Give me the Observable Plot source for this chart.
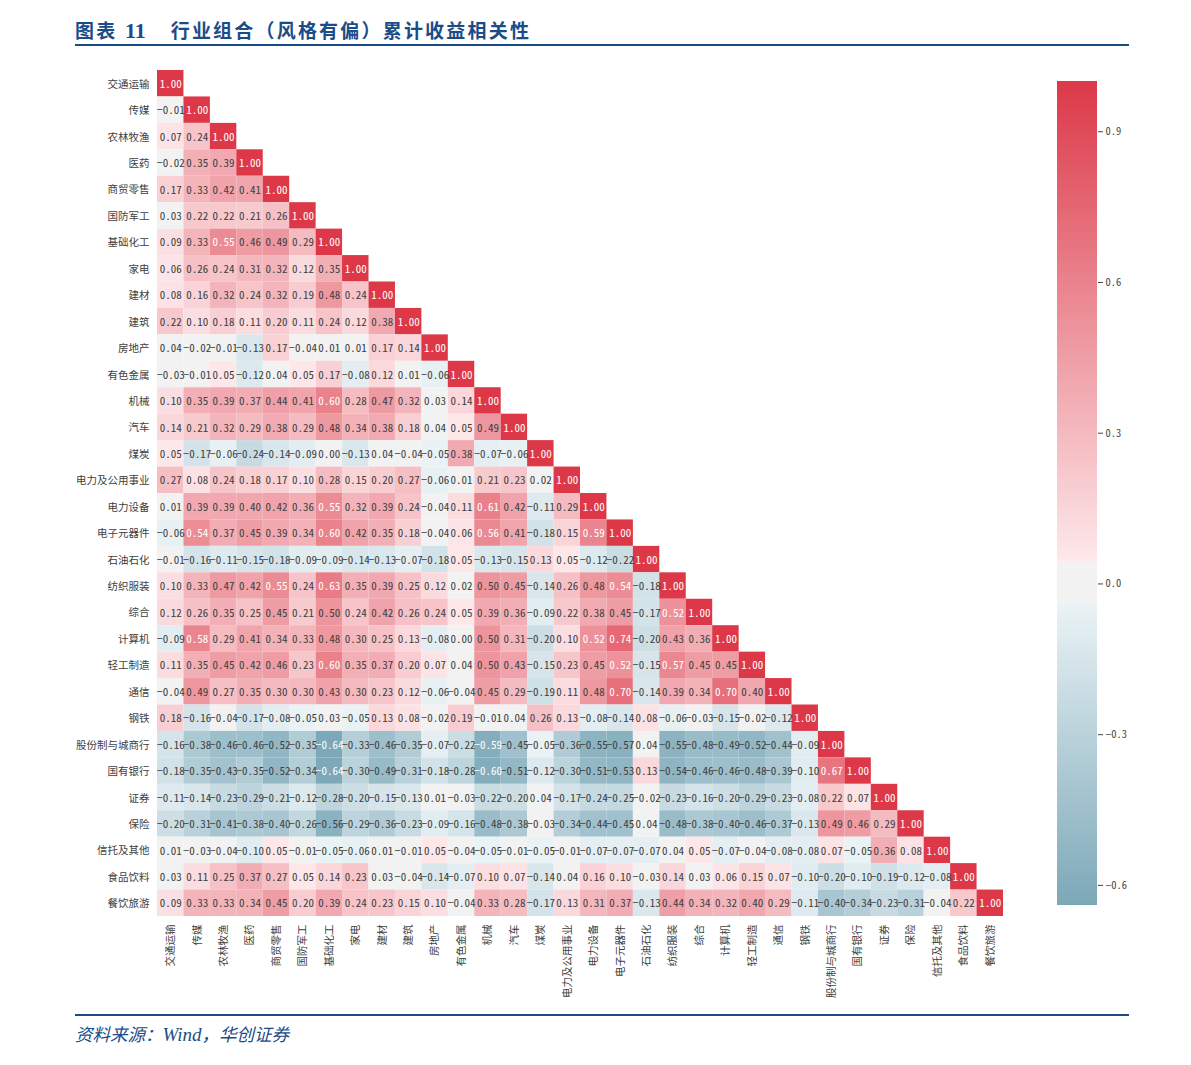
<!DOCTYPE html>
<html lang="zh">
<head>
<meta charset="utf-8">
<script src="https://cdn.jsdelivr.net/npm/d3@7"></script>
<script src="https://cdn.jsdelivr.net/npm/@observablehq/plot@0.6"></script>
<style>
  html, body { margin: 0; padding: 0; background: #fff; }
  #page { position: relative; width: 1191px; height: 1065px; overflow: hidden; }
  #title { position: absolute; left: 75px; top: 16px; font: 600 19px "Noto Sans CJK SC", sans-serif; letter-spacing: 2.2px; color: #1c4c87; white-space: pre; line-height: 28px; }
  #title .num { font-family: "Liberation Serif", serif; font-weight: 700; font-size: 22px; letter-spacing: 0; margin: 0 2px 0 1px; }
  #title .gap { display: inline-block; width: 23px; }
  .rule { position: absolute; left: 75px; width: 1054px; height: 2px; background: #1c4c87; }
  #source { position: absolute; left: 75px; top: 1021px; font: italic 17.5px "Noto Sans CJK SC", sans-serif; color: #1c4c87; white-space: pre; line-height: 26px; }
  #source .en { font-family: "Liberation Serif", serif; font-size: 19px; }
  #heat { position: absolute; left: 0; top: 47px; }
  #bar { position: absolute; left: 1040px; top: 47px; }
  svg text { font-family: "Noto Sans CJK SC", sans-serif; font-feature-settings: "hwid"; }
</style>
</head>
<body>
<div id="page">
  <div id="title">图表 <span class="num">11</span><span class="gap"></span>行业组合（风格有偏）累计收益相关性</div>
  <div class="rule" style="top:44px"></div>
  <div id="heat"></div>
  <div id="bar"></div>
  <div class="rule" style="top:1014px"></div>
  <div id="source">资料来源：<span class="en">Wind</span>，华创证券</div>
</div>
<script>
const categories = ["交通运输","传媒","农林牧渔","医药","商贸零售","国防军工","基础化工","家电","建材","建筑","房地产","有色金属","机械","汽车","煤炭","电力及公用事业","电力设备","电子元器件","石油石化","纺织服装","综合","计算机","轻工制造","通信","钢铁","股份制与城商行","国有银行","证券","保险","信托及其他","食品饮料","餐饮旅游"];

const correlations = [
[1],
[-0.01,1],
[0.07,0.24,1],
[-0.02,0.35,0.39,1],
[0.17,0.33,0.42,0.41,1],
[0.03,0.22,0.22,0.21,0.26,1],
[0.09,0.33,0.55,0.46,0.49,0.29,1],
[0.06,0.26,0.24,0.31,0.32,0.12,0.35,1],
[0.08,0.16,0.32,0.24,0.32,0.19,0.48,0.24,1],
[0.22,0.10,0.18,0.11,0.20,0.11,0.24,0.12,0.38,1],
[0.04,-0.02,-0.01,-0.13,0.17,-0.04,0.01,0.01,0.17,0.14,1],
[-0.03,-0.01,0.05,-0.12,0.04,0.05,0.17,-0.08,0.12,0.01,-0.06,1],
[0.10,0.35,0.39,0.37,0.44,0.41,0.60,0.28,0.47,0.32,0.03,0.14,1],
[0.14,0.21,0.32,0.29,0.38,0.29,0.48,0.34,0.38,0.18,0.04,0.05,0.49,1],
[0.05,-0.17,-0.06,-0.24,-0.14,-0.09,0.00,-0.13,0.04,-0.04,-0.05,0.38,-0.07,-0.06,1],
[0.27,0.08,0.24,0.18,0.17,0.10,0.28,0.15,0.20,0.27,-0.06,0.01,0.21,0.23,0.02,1],
[0.01,0.39,0.39,0.40,0.42,0.36,0.55,0.32,0.39,0.24,-0.04,0.11,0.61,0.42,-0.11,0.29,1],
[-0.06,0.54,0.37,0.45,0.39,0.34,0.60,0.42,0.35,0.18,-0.04,0.06,0.56,0.41,-0.18,0.15,0.59,1],
[-0.01,-0.16,-0.11,-0.15,-0.18,-0.09,-0.09,-0.14,-0.13,-0.07,-0.18,0.05,-0.13,-0.15,0.13,0.05,-0.12,-0.22,1],
[0.10,0.33,0.47,0.42,0.55,0.24,0.63,0.35,0.39,0.25,0.12,0.02,0.50,0.45,-0.14,0.26,0.48,0.54,-0.18,1],
[0.12,0.26,0.35,0.25,0.45,0.21,0.50,0.24,0.42,0.26,0.24,0.05,0.39,0.36,-0.09,0.22,0.38,0.45,-0.17,0.52,1],
[-0.09,0.58,0.29,0.41,0.34,0.33,0.48,0.30,0.25,0.13,-0.08,-0.001,0.50,0.31,-0.20,0.10,0.52,0.74,-0.20,0.43,0.36,1],
[0.11,0.35,0.45,0.42,0.46,0.23,0.60,0.35,0.37,0.20,0.07,0.04,0.50,0.43,-0.15,0.23,0.45,0.52,-0.15,0.57,0.45,0.45,1],
[-0.04,0.49,0.27,0.35,0.30,0.30,0.43,0.30,0.23,0.12,-0.06,-0.04,0.45,0.29,-0.19,0.11,0.48,0.70,-0.14,0.39,0.34,0.70,0.40,1],
[0.18,-0.16,-0.04,-0.17,-0.08,-0.05,0.03,-0.05,0.13,0.08,-0.02,0.19,-0.01,0.04,0.26,0.13,-0.08,-0.14,0.08,-0.06,-0.03,-0.15,-0.02,-0.12,1],
[-0.16,-0.38,-0.46,-0.46,-0.52,-0.35,-0.64,-0.33,-0.46,-0.35,-0.07,-0.22,-0.59,-0.45,-0.05,-0.36,-0.55,-0.57,0.04,-0.55,-0.48,-0.49,-0.52,-0.44,-0.09,1],
[-0.18,-0.35,-0.43,-0.35,-0.52,-0.34,-0.64,-0.30,-0.49,-0.31,-0.18,-0.28,-0.60,-0.51,-0.12,-0.30,-0.51,-0.53,0.13,-0.54,-0.46,-0.46,-0.48,-0.39,-0.10,0.67,1],
[-0.11,-0.14,-0.23,-0.29,-0.21,-0.12,-0.28,-0.20,-0.15,-0.13,0.01,-0.03,-0.22,-0.20,0.04,-0.17,-0.24,-0.25,-0.02,-0.23,-0.16,-0.20,-0.29,-0.23,-0.08,0.22,0.07,1],
[-0.20,-0.31,-0.41,-0.38,-0.40,-0.26,-0.56,-0.29,-0.36,-0.23,-0.09,-0.16,-0.48,-0.38,-0.03,-0.34,-0.44,-0.45,0.04,-0.48,-0.38,-0.40,-0.46,-0.37,-0.13,0.49,0.46,0.29,1],
[0.01,-0.03,-0.04,-0.10,0.05,-0.01,-0.05,-0.06,0.01,-0.01,0.05,-0.04,-0.05,-0.01,-0.05,-0.01,-0.07,-0.07,-0.07,0.04,0.05,-0.07,-0.04,-0.08,-0.08,0.07,-0.05,0.36,0.08,1],
[0.03,0.11,0.25,0.37,0.27,0.05,0.14,0.23,0.03,-0.04,-0.14,-0.07,0.10,0.07,-0.14,0.04,0.16,0.10,-0.03,0.14,0.03,0.06,0.15,0.07,-0.10,-0.20,-0.10,-0.19,-0.12,-0.08,1],
[0.09,0.33,0.33,0.34,0.45,0.20,0.39,0.24,0.23,0.15,0.10,-0.04,0.33,0.28,-0.17,0.13,0.31,0.37,-0.13,0.44,0.34,0.32,0.40,0.29,-0.11,-0.40,-0.34,-0.23,-0.31,-0.04,0.22,1]
];

const colorStops  = [-0.64, -0.0401, -0.04, 0.04, 0.0401, 1];
const colorValues = ["#7ca8b8", "#ebf3f6", "#f2f2f2", "#f2f2f2", "#fde9eb", "#dc3848"];
const barTicks = [-0.6, -0.3, 0, 0.3, 0.6, 0.9];

const colorScale = {type: "linear", domain: colorStops, range: colorValues, interpolate: "rgb"};
const fmt = d3.format(".2f");
const isLight = d => d.value >= 0.52 || d.value <= -0.59;

const cells = correlations.flatMap((row, i) =>
  row.map((value, j) => ({row: categories[i], col: categories[j], value})));

const heat = Plot.plot({
  width: 1191, height: 965,
  marginLeft: 157, marginRight: 188, marginTop: 23, marginBottom: 96,
  x: {domain: categories, padding: 0, round: false, label: null},
  y: {domain: categories, padding: 0, round: false, label: null},
  color: colorScale,
  marks: [
    Plot.cell(cells, {x: "col", y: "row", fill: "value"}),
    Plot.text(cells.filter(d => !isLight(d)), {x: "col", y: "row", text: d => fmt(d.value), fill: "#404040", fontSize: 11, dy: 0.6}),
    Plot.text(cells.filter(isLight), {x: "col", y: "row", text: d => fmt(d.value), fill: "#fff", fontSize: 11, dy: 0.6}),
    Plot.axisY({anchor: "left", tickSize: 0, tickPadding: 8, fontSize: 10.5, color: "#404040", label: null, dy: 0.6}),
    Plot.axisX({anchor: "bottom", tickSize: 0, tickPadding: 8, tickRotate: -90, fontSize: 10.5, color: "#404040", label: null})
  ]
});
document.getElementById("heat").append(heat);

const barLevels = d3.range(-0.64, 1, 0.004);
const bar = Plot.plot({
  width: 110, height: 880,
  marginLeft: 17, marginRight: 53, marginTop: 34, marginBottom: 22,
  x: {domain: [0, 1], axis: null},
  y: {domain: [-0.64, 1], label: null},
  color: colorScale,
  marks: [
    Plot.rect(barLevels, {x1: () => 0, x2: () => 1, y1: d => d, y2: d => Math.min(1, d + 0.004), fill: d => d, shapeRendering: "crispEdges"}),
    Plot.axisY({anchor: "right", ticks: barTicks, tickFormat: ".1f", tickSize: 5, tickPadding: 3, fontSize: 10.5, color: "#444", label: null})
  ]
});
document.getElementById("bar").append(bar);
</script>
</body>
</html>
